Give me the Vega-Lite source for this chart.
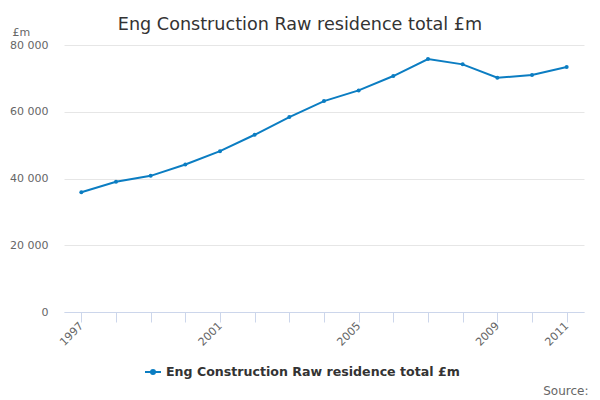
{
  "$schema": "https://vega.github.io/schema/vega-lite/v6.json",
  "width": 520,
  "height": 267,
  "autosize": "none",
  "padding": {"left": 64, "top": 45, "right": 16, "bottom": 88},
  "background": "white",
  "config": {
    "font": "DejaVu Sans",
    "view": {"stroke": null}
  },
  "title": {
    "text": "Eng Construction Raw residence total £m",
    "fontSize": 17.6,
    "fontWeight": "normal",
    "color": "#333333",
    "anchor": "middle",
    "frame": "group",
    "dx": -24,
    "offset": -8
  },
  "data": {
    "values": [
      {"Year": "1997", "Series": "Eng Construction Raw residence total £m", "Value": 35900},
      {"Year": "1998", "Series": "Eng Construction Raw residence total £m", "Value": 39000},
      {"Year": "1999", "Series": "Eng Construction Raw residence total £m", "Value": 40800},
      {"Year": "2000", "Series": "Eng Construction Raw residence total £m", "Value": 44200},
      {"Year": "2001", "Series": "Eng Construction Raw residence total £m", "Value": 48200},
      {"Year": "2002", "Series": "Eng Construction Raw residence total £m", "Value": 53100},
      {"Year": "2003", "Series": "Eng Construction Raw residence total £m", "Value": 58400},
      {"Year": "2004", "Series": "Eng Construction Raw residence total £m", "Value": 63200},
      {"Year": "2005", "Series": "Eng Construction Raw residence total £m", "Value": 66400},
      {"Year": "2006", "Series": "Eng Construction Raw residence total £m", "Value": 70700},
      {"Year": "2007", "Series": "Eng Construction Raw residence total £m", "Value": 75800},
      {"Year": "2008", "Series": "Eng Construction Raw residence total £m", "Value": 74200},
      {"Year": "2009", "Series": "Eng Construction Raw residence total £m", "Value": 70200},
      {"Year": "2010", "Series": "Eng Construction Raw residence total £m", "Value": 71000},
      {"Year": "2011", "Series": "Eng Construction Raw residence total £m", "Value": 73400}
    ]
  },
  "mark": {
    "type": "line",
    "strokeWidth": 2,
    "point": {"size": 16, "filled": true}
  },
  "encoding": {
    "x": {
      "field": "Year",
      "type": "ordinal",
      "scale": {"type": "point", "padding": 0.5},
      "axis": {
        "title": "Source:",
        "titleFontSize": 12,
        "titleFontWeight": "normal",
        "titleColor": "#666666",
        "titleAnchor": "end",
        "titleAlign": "right",
        "titleBaseline": "middle",
        "titleX": 524,
        "titleY": 78,
        "domainColor": "#ccd6eb",
        "tickColor": "#ccd6eb",
        "tickSize": 10,
        "labelAngle": -45,
        "labelAlign": "right",
        "labelBaseline": "middle",
        "labelPadding": 2,
        "labelFontSize": 11,
        "labelColor": "#666666",
        "labelExpr": "indexof(['1997','2001','2005','2009','2011'], datum.value) >= 0 ? datum.value : ''",
        "grid": false
      }
    },
    "y": {
      "field": "Value",
      "type": "quantitative",
      "scale": {"domain": [0, 80000]},
      "axis": {
        "title": "£m",
        "titleAngle": 0,
        "titleAlign": "left",
        "titleBaseline": "bottom",
        "titleX": -52,
        "titleY": -8,
        "titleFontSize": 11,
        "titleFontWeight": "normal",
        "titleColor": "#666666",
        "values": [0, 20000, 40000, 60000, 80000],
        "labelExpr": "replace(format(datum.value, ','), ',', ' ')",
        "labelFontSize": 11,
        "labelColor": "#666666",
        "labelPadding": 16,
        "domain": false,
        "ticks": false,
        "gridColor": "#e6e6e6"
      }
    },
    "color": {
      "field": "Series",
      "type": "nominal",
      "scale": {"range": ["#0b7dc2"]},
      "legend": {
        "title": null,
        "orient": "none",
        "direction": "horizontal",
        "legendX": 80,
        "legendY": 318,
        "labelFontSize": 12.6,
        "labelFontWeight": "bold",
        "labelColor": "#333333",
        "labelLimit": 0,
        "symbolType": "M-1,0L1,0M-0.25,0A0.25,0.25 0 1,1 0.25,0A0.25,0.25 0 1,1 -0.25,0",
        "symbolSize": 256,
        "symbolStrokeWidth": 2
      }
    }
  }
}
